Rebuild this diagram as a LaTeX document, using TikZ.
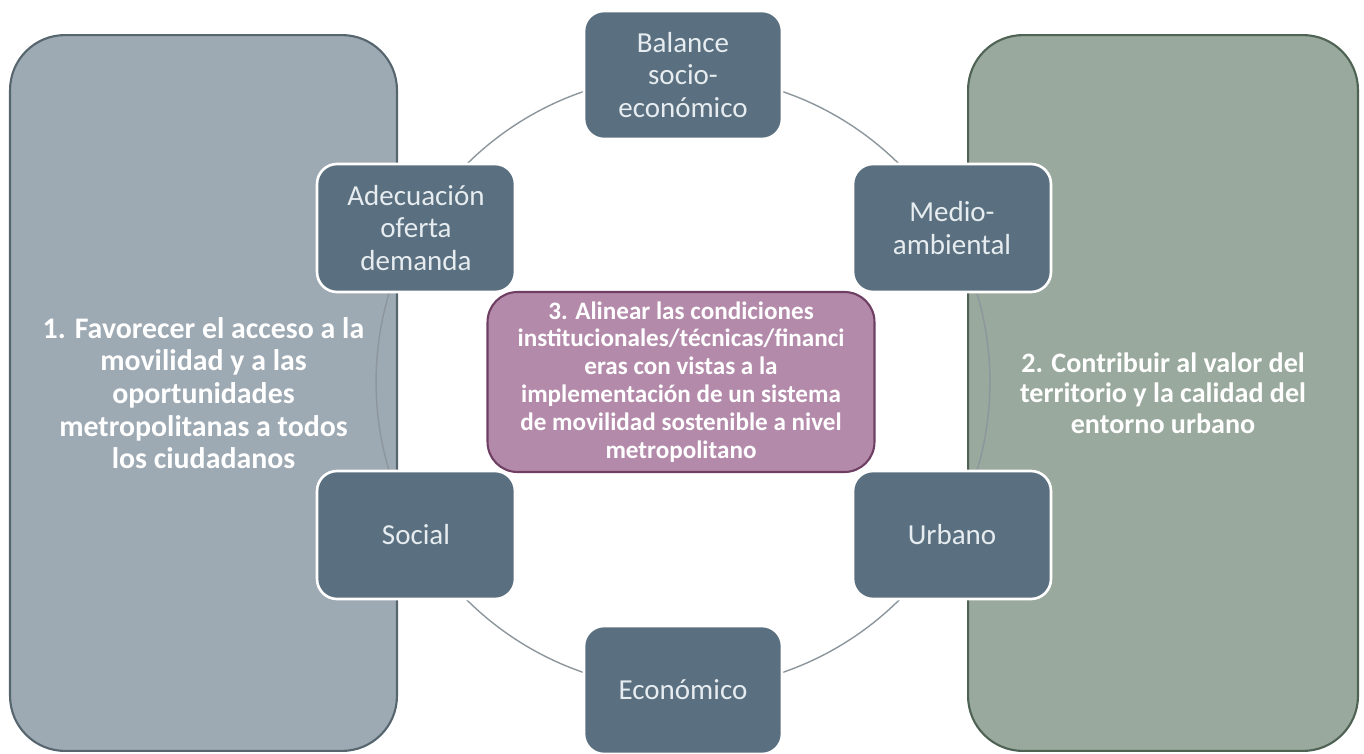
\documentclass[tikz,border=0pt]{standalone}
\usepackage{fontspec}
\setmainfont{Carlito}
\usepackage{tikz}
\usetikzlibrary{shapes,positioning,calc}

\definecolor{metaizq}{HTML}{9DA9B3}
\definecolor{bordeizq}{HTML}{56656E}
\definecolor{metader}{HTML}{99A99D}
\definecolor{bordeder}{HTML}{4F6354}
\definecolor{ejeazul}{HTML}{5A7080}
\definecolor{ejetexto}{HTML}{E6ECEF}
\definecolor{centro}{HTML}{B48AAA}
\definecolor{bordecentro}{HTML}{6E3F63}
\definecolor{anillo}{HTML}{8C969C}

\begin{document}
\begin{tikzpicture}[x=0.02cm, y=-0.02cm, every node/.style={align=center}]
        % estilos de los nodos
        \tikzstyle{goalleft} = [rectangle, rounded corners=1.1cm, minimum width=7.74cm, minimum height=14.32cm, inner sep=0pt, draw=bordeizq, line width=1.2pt, fill=metaizq, text=white, font=\fontsize{17}{18.6}\selectfont\bfseries]
        \tikzstyle{goalright} = [goalleft, minimum width=7.8cm, draw=bordeder, fill=metader, font=\fontsize{16}{17.4}\selectfont\bfseries]
        \tikzstyle{aspect} = [rectangle, rounded corners=0.4cm, minimum width=3.96cm, minimum height=2.56cm, inner sep=0pt, draw=white, line width=1.5pt, fill=ejeazul, text=ejetexto, font=\fontsize{16.5}{18.3}\selectfont]
        \tikzstyle{core} = [rectangle, rounded corners=0.6cm, minimum width=7.74cm, minimum height=3.6cm, inner sep=0pt, draw=bordecentro, line width=1.2pt, fill=centro, text=white, font=\fontsize{14.3}{15.9}\selectfont\bfseries]
        \tikzstyle{ring} = [anillo, line width=0.8pt]

        \useasboundingbox (0,0) rectangle (1364,753);

        % objetivos laterales
        \node (goal1) [goalleft] at (203.5,393) {1. Favorecer el acceso a la\\movilidad y a las\\oportunidades\\metropolitanas a todos\\los ciudadanos};
        \node (goal2) [goalright] at (1163,393) {2. Contribuir al valor del\\territorio y la calidad del\\entorno urbano};

        % anillo
        \coordinate (mid) at (683,382);
        \draw [ring] (mid) circle (6.14cm);

        % ejes
        \node (balance) [aspect] at (683,75) {Balance\\socio-\\económico};
        \node (adecuacion) [aspect] at (416,228) {Adecuación\\oferta\\demanda};
        \node (medio) [aspect] at (952,228) {Medio-\\ambiental};
        \node (social) [aspect] at (416,535) {Social};
        \node (urbano) [aspect] at (952,535) {Urbano};
        \node (economico) [aspect] at (683,690) {Económico};

        % objetivo central
        \node (goal3) [core] at (681,382) {3. Alinear las condiciones\\institucionales/técnicas/financi\\eras con vistas a la\\implementación de un sistema\\de movilidad sostenible a nivel\\metropolitano};
    \end{tikzpicture}
\end{document}
